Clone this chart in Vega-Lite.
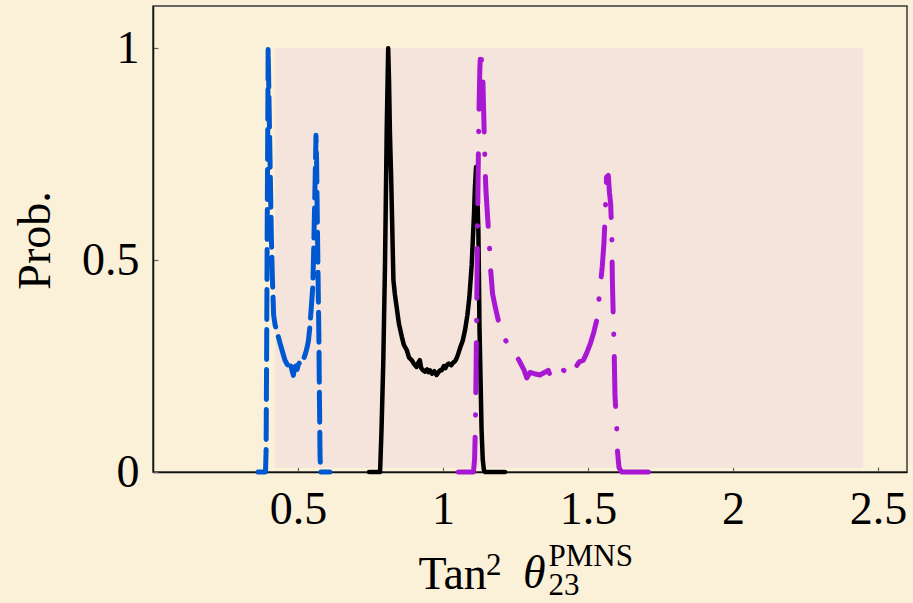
{
  "$schema": "https://vega.github.io/schema/vega-lite/v6.json",
  "width": 754,
  "height": 466,
  "autosize": {"type": "none"},
  "padding": {"left": 153, "top": 6, "right": 6, "bottom": 131},
  "background": "#FBF0D8",
  "config": {
    "view": {"stroke": "#3a3a3a", "strokeWidth": 1.5},
    "axis": {
      "labelFont": "Liberation Serif",
      "labelFontSize": 46,
      "labelColor": "#000",
      "titleFont": "Liberation Serif",
      "titleFontSize": 46,
      "titleFontWeight": "normal",
      "titleColor": "#000",
      "domainColor": "#111",
      "domainWidth": 1.5,
      "tickColor": "#666",
      "tickWidth": 1.2,
      "tickSize": -5,
      "grid": false,
      "labelOverlap": false,
      "labelBound": false,
      "labelFlush": false
    }
  },
  "datasets": {
    "curves": [
      {"s": "blue", "x": 0.362, "y": 0}, {"s": "blue", "x": 0.388, "y": 0}, {"s": "blue", "x": 0.39, "y": 0.05},
      {"s": "blue", "x": 0.392, "y": 0.3}, {"s": "blue", "x": 0.394, "y": 0.6}, {"s": "blue", "x": 0.396, "y": 0.85},
      {"s": "blue", "x": 0.397, "y": 1.0}, {"s": "blue", "x": 0.4, "y": 0.88}, {"s": "blue", "x": 0.404, "y": 0.72},
      {"s": "blue", "x": 0.408, "y": 0.56}, {"s": "blue", "x": 0.412, "y": 0.45}, {"s": "blue", "x": 0.416, "y": 0.37},
      {"s": "blue", "x": 0.421, "y": 0.347}, {"s": "blue", "x": 0.43, "y": 0.325}, {"s": "blue", "x": 0.438, "y": 0.304},
      {"s": "blue", "x": 0.446, "y": 0.285}, {"s": "blue", "x": 0.455, "y": 0.264}, {"s": "blue", "x": 0.462, "y": 0.255},
      {"s": "blue", "x": 0.468, "y": 0.25}, {"s": "blue", "x": 0.472, "y": 0.24}, {"s": "blue", "x": 0.476, "y": 0.25},
      {"s": "blue", "x": 0.48, "y": 0.238}, {"s": "blue", "x": 0.484, "y": 0.228}, {"s": "blue", "x": 0.488, "y": 0.245},
      {"s": "blue", "x": 0.492, "y": 0.25}, {"s": "blue", "x": 0.497, "y": 0.242}, {"s": "blue", "x": 0.502, "y": 0.255},
      {"s": "blue", "x": 0.508, "y": 0.26}, {"s": "blue", "x": 0.513, "y": 0.257}, {"s": "blue", "x": 0.52, "y": 0.268},
      {"s": "blue", "x": 0.526, "y": 0.28}, {"s": "blue", "x": 0.53, "y": 0.29}, {"s": "blue", "x": 0.536, "y": 0.31},
      {"s": "blue", "x": 0.541, "y": 0.343}, {"s": "blue", "x": 0.546, "y": 0.39}, {"s": "blue", "x": 0.551, "y": 0.437},
      {"s": "blue", "x": 0.554, "y": 0.52}, {"s": "blue", "x": 0.557, "y": 0.62}, {"s": "blue", "x": 0.56, "y": 0.72},
      {"s": "blue", "x": 0.562, "y": 0.795}, {"s": "blue", "x": 0.564, "y": 0.74}, {"s": "blue", "x": 0.566, "y": 0.63},
      {"s": "blue", "x": 0.569, "y": 0.47}, {"s": "blue", "x": 0.572, "y": 0.32}, {"s": "blue", "x": 0.574, "y": 0.17},
      {"s": "blue", "x": 0.576, "y": 0.04}, {"s": "blue", "x": 0.578, "y": 0}, {"s": "blue", "x": 0.61, "y": 0},

      {"s": "black", "x": 0.745, "y": 0}, {"s": "black", "x": 0.783, "y": 0}, {"s": "black", "x": 0.788, "y": 0.1},
      {"s": "black", "x": 0.794, "y": 0.257}, {"s": "black", "x": 0.8, "y": 0.49}, {"s": "black", "x": 0.806, "y": 0.81},
      {"s": "black", "x": 0.811, "y": 1.0}, {"s": "black", "x": 0.814, "y": 0.92}, {"s": "black", "x": 0.817, "y": 0.8},
      {"s": "black", "x": 0.821, "y": 0.7}, {"s": "black", "x": 0.824, "y": 0.61}, {"s": "black", "x": 0.829, "y": 0.453},
      {"s": "black", "x": 0.834, "y": 0.42}, {"s": "black", "x": 0.84, "y": 0.39}, {"s": "black", "x": 0.848, "y": 0.35},
      {"s": "black", "x": 0.858, "y": 0.319}, {"s": "black", "x": 0.865, "y": 0.3}, {"s": "black", "x": 0.875, "y": 0.288},
      {"s": "black", "x": 0.883, "y": 0.27}, {"s": "black", "x": 0.892, "y": 0.264}, {"s": "black", "x": 0.9, "y": 0.255},
      {"s": "black", "x": 0.909, "y": 0.248}, {"s": "black", "x": 0.915, "y": 0.258}, {"s": "black", "x": 0.92, "y": 0.264},
      {"s": "black", "x": 0.925, "y": 0.245}, {"s": "black", "x": 0.932, "y": 0.24}, {"s": "black", "x": 0.938, "y": 0.237},
      {"s": "black", "x": 0.945, "y": 0.242}, {"s": "black", "x": 0.95, "y": 0.236}, {"s": "black", "x": 0.955, "y": 0.24},
      {"s": "black", "x": 0.962, "y": 0.232}, {"s": "black", "x": 0.97, "y": 0.238}, {"s": "black", "x": 0.978, "y": 0.229},
      {"s": "black", "x": 0.985, "y": 0.236}, {"s": "black", "x": 0.99, "y": 0.24}, {"s": "black", "x": 0.995, "y": 0.24},
      {"s": "black", "x": 1.003, "y": 0.25}, {"s": "black", "x": 1.008, "y": 0.245}, {"s": "black", "x": 1.013, "y": 0.252},
      {"s": "black", "x": 1.02, "y": 0.256}, {"s": "black", "x": 1.028, "y": 0.252}, {"s": "black", "x": 1.035, "y": 0.258},
      {"s": "black", "x": 1.042, "y": 0.262}, {"s": "black", "x": 1.048, "y": 0.27}, {"s": "black", "x": 1.053, "y": 0.28},
      {"s": "black", "x": 1.06, "y": 0.295}, {"s": "black", "x": 1.068, "y": 0.31}, {"s": "black", "x": 1.076, "y": 0.335},
      {"s": "black", "x": 1.084, "y": 0.37}, {"s": "black", "x": 1.091, "y": 0.413}, {"s": "black", "x": 1.099, "y": 0.49},
      {"s": "black", "x": 1.103, "y": 0.55}, {"s": "black", "x": 1.107, "y": 0.61}, {"s": "black", "x": 1.11, "y": 0.67},
      {"s": "black", "x": 1.114, "y": 0.72}, {"s": "black", "x": 1.118, "y": 0.66}, {"s": "black", "x": 1.122, "y": 0.57},
      {"s": "black", "x": 1.126, "y": 0.335}, {"s": "black", "x": 1.13, "y": 0.2}, {"s": "black", "x": 1.133, "y": 0.099},
      {"s": "black", "x": 1.137, "y": 0.03}, {"s": "black", "x": 1.141, "y": 0.005}, {"s": "black", "x": 1.145, "y": 0},
      {"s": "black", "x": 1.214, "y": 0},

      {"s": "purple", "x": 1.053, "y": 0}, {"s": "purple", "x": 1.08, "y": 0}, {"s": "purple", "x": 1.105, "y": 0},
      {"s": "purple", "x": 1.109, "y": 0.03}, {"s": "purple", "x": 1.112, "y": 0.12}, {"s": "purple", "x": 1.115, "y": 0.3},
      {"s": "purple", "x": 1.118, "y": 0.5}, {"s": "purple", "x": 1.121, "y": 0.7}, {"s": "purple", "x": 1.124, "y": 0.85},
      {"s": "purple", "x": 1.127, "y": 0.95}, {"s": "purple", "x": 1.13, "y": 1.0}, {"s": "purple", "x": 1.133, "y": 0.97},
      {"s": "purple", "x": 1.137, "y": 0.94}, {"s": "purple", "x": 1.141, "y": 0.83}, {"s": "purple", "x": 1.145, "y": 0.72},
      {"s": "purple", "x": 1.148, "y": 0.665}, {"s": "purple", "x": 1.154, "y": 0.6}, {"s": "purple", "x": 1.16, "y": 0.535},
      {"s": "purple", "x": 1.164, "y": 0.48}, {"s": "purple", "x": 1.171, "y": 0.42}, {"s": "purple", "x": 1.18, "y": 0.39},
      {"s": "purple", "x": 1.19, "y": 0.36}, {"s": "purple", "x": 1.2, "y": 0.335}, {"s": "purple", "x": 1.208, "y": 0.32},
      {"s": "purple", "x": 1.225, "y": 0.3}, {"s": "purple", "x": 1.248, "y": 0.28}, {"s": "purple", "x": 1.265, "y": 0.26},
      {"s": "purple", "x": 1.28, "y": 0.24}, {"s": "purple", "x": 1.289, "y": 0.222}, {"s": "purple", "x": 1.3, "y": 0.235},
      {"s": "purple", "x": 1.315, "y": 0.232}, {"s": "purple", "x": 1.334, "y": 0.229}, {"s": "purple", "x": 1.35, "y": 0.235},
      {"s": "purple", "x": 1.363, "y": 0.24}, {"s": "purple", "x": 1.37, "y": 0.228}, {"s": "purple", "x": 1.38, "y": 0.235},
      {"s": "purple", "x": 1.39, "y": 0.24}, {"s": "purple", "x": 1.4, "y": 0.232}, {"s": "purple", "x": 1.41, "y": 0.243},
      {"s": "purple", "x": 1.42, "y": 0.238}, {"s": "purple", "x": 1.43, "y": 0.25}, {"s": "purple", "x": 1.44, "y": 0.242},
      {"s": "purple", "x": 1.45, "y": 0.255}, {"s": "purple", "x": 1.46, "y": 0.25}, {"s": "purple", "x": 1.47, "y": 0.26},
      {"s": "purple", "x": 1.484, "y": 0.264}, {"s": "purple", "x": 1.495, "y": 0.28}, {"s": "purple", "x": 1.509, "y": 0.305},
      {"s": "purple", "x": 1.52, "y": 0.33}, {"s": "purple", "x": 1.53, "y": 0.358}, {"s": "purple", "x": 1.541, "y": 0.429},
      {"s": "purple", "x": 1.549, "y": 0.484}, {"s": "purple", "x": 1.555, "y": 0.54}, {"s": "purple", "x": 1.56, "y": 0.62},
      {"s": "purple", "x": 1.564, "y": 0.696}, {"s": "purple", "x": 1.57, "y": 0.7}, {"s": "purple", "x": 1.574, "y": 0.66},
      {"s": "purple", "x": 1.578, "y": 0.634}, {"s": "purple", "x": 1.582, "y": 0.564}, {"s": "purple", "x": 1.584, "y": 0.453},
      {"s": "purple", "x": 1.587, "y": 0.37}, {"s": "purple", "x": 1.59, "y": 0.292}, {"s": "purple", "x": 1.593, "y": 0.181},
      {"s": "purple", "x": 1.599, "y": 0.107}, {"s": "purple", "x": 1.601, "y": 0.054}, {"s": "purple", "x": 1.607, "y": 0.01},
      {"s": "purple", "x": 1.616, "y": 0}, {"s": "purple", "x": 1.708, "y": 0}
    ],
    "band": [{"x": 0.421, "x2": 2.449, "y": 0.01, "y2": 1}],
    "theta": [{"x": 1.276, "y": -0.274, "t": "θ"}],
    "small": [{"x": 1.364, "y": -0.222, "t": "PMNS"}, {"x": 1.364, "y": -0.29, "t": "23"}, {"x": 1.148, "y": -0.244, "t": "2"}]
  },
  "encoding": {
    "x": {
      "field": "x", "type": "quantitative",
      "scale": {"domain": [0, 2.6], "nice": false, "zero": false},
      "axis": {
        "values": [0.5, 1, 1.5, 2, 2.5], "format": "~g",
        "labelBaseline": "alphabetic", "labelPadding": 56,
        "title": "Tan", "titleX": 265, "titleY": 116,
        "titleAlign": "left", "titleBaseline": "alphabetic"
      }
    },
    "y": {
      "field": "y", "type": "quantitative",
      "scale": {"domain": [0, 1.1], "nice": false, "zero": false},
      "axis": {
        "values": [0, 0.5, 1], "format": "~g",
        "labelBaseline": "middle", "labelPadding": 19,
        "title": "Prob.", "titleX": -118, "titleY": 234,
        "titleAngle": -90, "titleAlign": "center", "titleBaseline": "middle"
      }
    }
  },
  "layer": [
    {
      "data": {"name": "band"},
      "mark": {"type": "rect", "color": "#F4E4DC", "opacity": 1},
      "encoding": {"x2": {"field": "x2"}, "y2": {"field": "y2"}}
    },
    {
      "data": {"name": "curves"},
      "transform": [{"filter": "datum.s === 'blue'"}],
      "mark": {"type": "line", "color": "#0058D0", "strokeWidth": 5, "strokeDash": [30, 10], "strokeCap": "round", "strokeJoin": "round"}
    },
    {
      "data": {"name": "curves"},
      "transform": [{"filter": "datum.s === 'black'"}],
      "mark": {"type": "line", "color": "#000000", "strokeWidth": 4.5, "strokeJoin": "round", "strokeCap": "round"}
    },
    {
      "data": {"name": "curves"},
      "transform": [{"filter": "datum.s === 'purple'"}],
      "mark": {"type": "line", "color": "#A818D2", "strokeWidth": 5, "strokeDash": [50, 22, 0.5, 22], "strokeCap": "round", "strokeJoin": "round"}
    },
    {
      "data": {"name": "theta"},
      "mark": {"type": "text", "font": "Liberation Serif", "fontSize": 46, "fontStyle": "italic", "align": "left", "baseline": "alphabetic", "color": "#000"},
      "encoding": {"text": {"field": "t"}}
    },
    {
      "data": {"name": "small"},
      "mark": {"type": "text", "font": "Liberation Serif", "fontSize": 31, "align": "left", "baseline": "alphabetic", "color": "#000"},
      "encoding": {"text": {"field": "t"}}
    }
  ]
}
